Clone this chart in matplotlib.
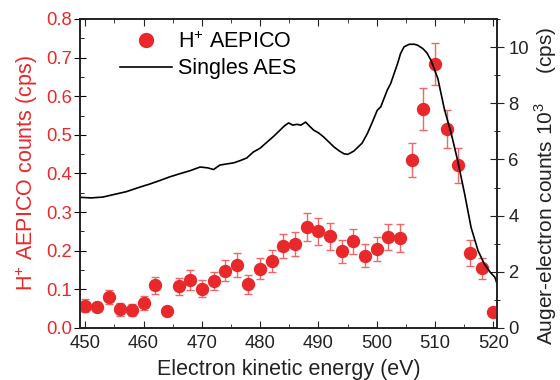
import numpy as np
import matplotlib
matplotlib.use('Agg')
import matplotlib.pyplot as plt
from matplotlib.lines import Line2D
from matplotlib.ticker import MultipleLocator, FormatStrFormatter

plt.rcParams['font.family'] = ['Liberation Sans', 'DejaVu Sans']
plt.rcParams['mathtext.fontset'] = 'custom'
plt.rcParams['mathtext.rm'] = 'Liberation Sans'

# H+ AEPICO coincidence counts (cps)
pico_energy = [450, 452, 454, 456, 458, 460, 462, 464, 466, 468, 470, 472, 474, 476, 478,
               480, 482, 484, 486, 488, 490, 492, 494, 496, 498, 500, 502, 504,
               506, 508, 510, 512, 514, 516, 518, 520]
pico_counts = [0.058, 0.055, 0.080, 0.048, 0.047, 0.064, 0.111, 0.045, 0.108, 0.124, 0.102,
               0.122, 0.148, 0.163, 0.113, 0.153, 0.174, 0.212, 0.217, 0.261, 0.250, 0.237,
               0.198, 0.224, 0.187, 0.204, 0.235, 0.232, 0.435, 0.567, 0.683, 0.516, 0.421,
               0.194, 0.154, 0.040]
pico_err = [0.016, 0.012, 0.018, 0.016, 0.016, 0.018, 0.022, 0.010, 0.022, 0.025, 0.022,
            0.024, 0.027, 0.031, 0.024, 0.027, 0.029, 0.030, 0.031, 0.036, 0.035, 0.034,
            0.031, 0.032, 0.030, 0.031, 0.033, 0.036, 0.044, 0.054, 0.055, 0.049, 0.045,
            0.034, 0.027, 0.0]

# Singles Auger spectrum (10^3 cps)
aes_energy = [449.1, 451, 453, 455.3, 457, 459.3, 461, 462.8, 464.5, 466.2, 468, 469.7, 471,
              472.0, 473.1, 474.3, 475.5, 476.6, 477.7, 478.8, 480, 481.2, 482.3, 483.4,
              484.2, 484.9, 485.6, 486.3, 487.0, 487.8, 488.5, 489.2, 490.0, 490.9, 491.8,
              492.7, 493.6, 494.4, 495.0, 495.5, 496.1, 496.7, 497.5, 498.4, 499.2, 500.1,
              500.7, 501.8, 502.4, 503.6, 504.1, 504.7, 505.6, 506.5, 507.0, 507.9, 508.6,
              509.3, 510.5, 511.6, 512.8, 513.9, 515.1, 516.2, 517.4, 518.5, 519.5, 520.3,
              520.7]
aes_counts = [4.65, 4.63, 4.66, 4.77, 4.85, 5.01, 5.12, 5.25, 5.38, 5.49, 5.60, 5.73, 5.70,
              5.64, 5.80, 5.84, 5.88, 5.96, 6.05, 6.26, 6.40, 6.62, 6.82, 7.04, 7.20, 7.30,
              7.22, 7.25, 7.22, 7.33, 7.18, 7.04, 6.95, 6.80, 6.62, 6.44, 6.30, 6.20, 6.18,
              6.23, 6.30, 6.42, 6.58, 6.92, 7.30, 7.75, 7.87, 8.46, 8.70, 9.42, 9.77, 10.01,
              10.10, 10.10, 10.07, 9.95, 9.80, 9.54, 8.88, 7.81, 6.92, 5.96, 4.77, 3.58,
              2.75, 2.27, 1.98, 1.80, 1.55]

red = '#e8282b'
fs_tick = 13.3
fs_lab = 15.5

fig = plt.figure(figsize=(5.6, 3.8), dpi=100)
ax = fig.add_axes([0.143, 0.137, 0.745, 0.813])
ax2 = ax.twinx()

ax.errorbar(pico_energy, pico_counts, yerr=pico_err, fmt='o', color=red, ms=8.6,
            ecolor='#f0676a', elinewidth=1, capsize=3, capthick=1, zorder=3)
ax2.plot(aes_energy, aes_counts, color='black', lw=1.2)

ax.set_xlim(449.1, 520.7)
ax.set_ylim(0, 0.8)
ax2.set_ylim(0, 11)

ax.xaxis.set_major_locator(MultipleLocator(10))
ax.xaxis.set_minor_locator(MultipleLocator(5))
ax.yaxis.set_major_locator(MultipleLocator(0.1))
ax.yaxis.set_minor_locator(MultipleLocator(0.05))
ax.yaxis.set_major_formatter(FormatStrFormatter('%.1f'))
ax2.yaxis.set_major_locator(MultipleLocator(2))
ax2.yaxis.set_minor_locator(MultipleLocator(1))

ax.tick_params(axis='x', which='both', direction='in', top=True, labelsize=fs_tick,
               colors='#222222', pad=5)
ax.tick_params(axis='x', which='major', length=5)
ax.tick_params(axis='x', which='minor', length=3)
ax.tick_params(axis='y', which='major', direction='inout', length=8, labelsize=fs_tick,
               labelcolor=red, pad=2)
ax.tick_params(axis='y', which='minor', direction='in', length=3)
ax2.tick_params(axis='y', which='major', direction='inout', length=10, labelsize=fs_tick,
                colors='#222222', pad=3)
ax2.tick_params(axis='y', which='minor', direction='inout', length=5)

for a in (ax, ax2):
    for s in a.spines.values():
        s.set_color('#222222')
        s.set_linewidth(1.2)

ax.set_xlabel('Electron kinetic energy (eV)', fontsize=fs_lab, color='#222222', labelpad=5)
ax.set_ylabel('H$^{+}$ AEPICO counts (cps)', fontsize=fs_lab, color=red, labelpad=4)
ax2.set_ylabel('Auger-electron counts 10$^{3}$     (cps)', fontsize=fs_lab - 0.5,
               color='#222222')
ax2.yaxis.set_label_coords(1.083, 0.46)

handles = [Line2D([], [], marker='o', ls='None', color=red, ms=10),
           Line2D([], [], color='black', lw=1.2)]
ax2.legend(handles, ['H$^{+}$ AEPICO', 'Singles AES'], loc='upper left',
           bbox_to_anchor=(0.096, 0.96), frameon=False, fontsize=fs_lab,
           handlelength=2.4, handletextpad=0.3, labelspacing=0.25,
           borderaxespad=0, borderpad=0)

fig.savefig('out.png', dpi=100)
